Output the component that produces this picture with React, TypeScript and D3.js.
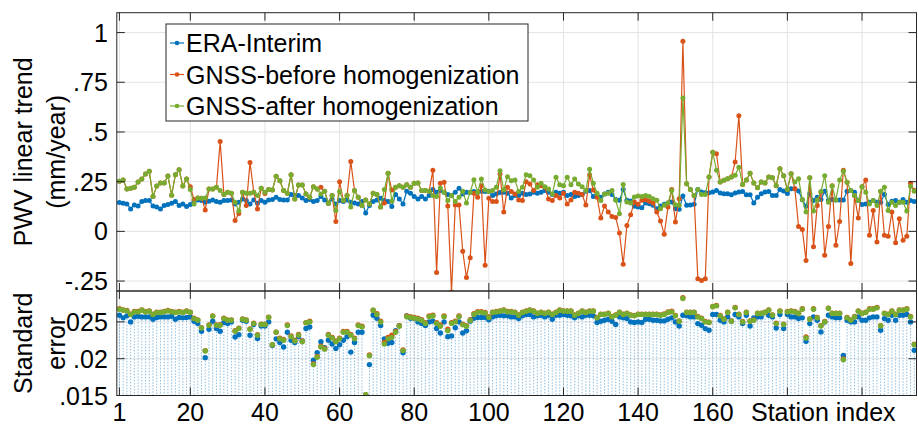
import React from 'react';
import * as d3 from 'd3';

// ---------- DATA ----------
const eraTrend = [
  0.145,0.142,0.138,0.113,0.133,0.127,0.15,0.155,0.155,0.127,
  0.122,0.112,0.13,0.135,0.142,0.15,0.13,0.138,0.125,0.135,
  0.15,0.158,0.155,0.147,0.152,0.158,0.15,0.147,0.155,0.155,
  0.158,0.138,0.147,0.163,0.155,0.138,0.158,0.142,0.155,0.147,
  0.158,0.16,0.172,0.16,0.158,0.158,0.185,0.18,0.18,0.168,
  0.155,0.16,0.15,0.155,0.175,0.158,0.142,0.163,0.138,0.155,
  0.15,0.158,0.147,0.143,0.138,0.15,0.093,0.13,0.15,0.158,
  0.167,0.155,0.15,0.125,0.185,0.163,0.138,0.202,0.192,0.175,
  0.163,0.175,0.163,0.18,0.21,0.197,0.205,0.197,0.185,0.18,
  0.197,0.217,0.188,0.197,0.197,0.2,0.197,0.202,0.2,0.202,
  0.18,0.188,0.195,0.197,0.192,0.168,0.18,0.18,0.192,0.185,
  0.188,0.197,0.192,0.197,0.205,0.197,0.185,0.197,0.192,0.197,
  0.18,0.185,0.175,0.18,0.185,0.202,0.205,0.175,0.18,0.172,
  0.188,0.197,0.185,0.16,0.156,0.21,0.156,0.153,0.126,0.122,
  0.119,0.143,0.139,0.131,0.114,0.127,0.136,0.143,0.148,0.114,
  0.111,0.178,0.131,0.132,0.136,0.21,0.198,0.194,0.194,0.198,
  0.206,0.193,0.189,0.189,0.184,0.193,0.198,0.201,0.184,0.184,
  0.143,0.172,0.189,0.198,0.201,0.181,0.181,0.211,0.203,0.191,
  0.215,0.215,0.203,0.159,0.126,0.189,0.155,0.172,0.16,0.202,
  0.155,0.16,0.158,0.158,0.158,0.202,0.205,0.197,0.155,0.135,
  0.138,0.147,0.155,0.147,0.147,0.185,0.135,0.152,0.155,0.147,
  0.16,0.147,0.155,0.15,
];

const gnssBeforeTrend = [
  0.252,0.258,0.213,0.217,0.222,0.248,0.263,0.288,0.302,0.175,
  0.228,0.243,0.243,0.278,0.182,0.285,0.31,0.228,0.263,0.225,
  0.16,0.168,0.167,0.108,0.213,0.213,0.222,0.452,0.185,0.197,
  0.192,0.055,0.09,0.197,0.13,0.347,0.197,0.113,0.217,0.19,
  0.21,0.208,0.277,0.255,0.205,0.192,0.285,0.163,0.233,0.233,
  0.188,0.172,0.225,0.213,0.222,0.202,0.142,0.18,0.05,0.25,
  0.155,0.18,0.352,0.205,0.172,0.13,0.158,0.138,0.192,0.185,
  0.122,0.143,0.292,0.208,0.222,0.23,0.222,0.235,0.222,0.242,
  0.243,0.205,0.205,0.202,0.307,-0.207,0.242,0.247,0.128,-0.305,
  0.133,0.133,-0.1,-0.232,-0.133,0.192,0.172,0.23,-0.17,0.167,
  0.15,0.15,0.288,0.097,0.222,0.2,0.188,0.158,0.155,0.25,
  0.238,0.205,0.235,0.23,0.222,0.163,0.155,0.18,0.168,0.192,
  0.138,0.158,0.197,0.192,0.185,0.133,0.283,0.208,0.172,0.067,
  0.128,0.097,0.075,0.07,-0.008,-0.166,0.03,0.084,0.148,0.136,
  0.156,0.159,0.151,0.143,0.097,0.052,-0.015,0.122,0.21,0.047,
  0.164,0.956,0.24,0.21,0.181,-0.238,-0.247,-0.238,0.273,0.398,
  0.39,0.248,0.257,0.265,0.273,0.349,0.582,0.236,0.258,0.292,
  0.243,0.22,0.248,0.243,0.273,0.27,0.23,0.315,0.28,0.21,
  0.29,0.215,0.025,0.01,-0.146,0.27,-0.078,0.13,0.197,-0.12,
  0.025,0.23,-0.07,0.05,0.308,0.247,-0.162,0.18,0.067,0.225,
  0.258,-0.02,0.105,-0.053,0.202,-0.02,-0.025,0.097,-0.057,0.063,
  -0.045,-0.025,0.242,0.205,
];

const gnssAfterTrend = [
  0.252,0.258,0.213,0.217,0.222,0.248,0.263,0.288,0.302,0.175,
  0.228,0.243,0.243,0.278,0.182,0.285,0.31,0.228,0.263,0.21,
  0.138,0.168,0.167,0.168,0.213,0.213,0.222,0.205,0.185,0.197,
  0.192,0.147,0.102,0.197,0.192,0.192,0.197,0.18,0.217,0.197,
  0.21,0.208,0.277,0.255,0.205,0.192,0.285,0.163,0.233,0.233,
  0.188,0.172,0.225,0.213,0.188,0.202,0.142,0.18,0.105,0.2,
  0.155,0.18,0.122,0.205,0.172,0.13,0.158,0.138,0.192,0.185,
  0.122,0.21,0.292,0.152,0.222,0.23,0.222,0.235,0.222,0.242,
  0.243,0.205,0.205,0.202,0.18,0.175,0.218,0.197,0.155,0.18,
  0.15,0.172,0.202,0.143,0.197,0.26,0.197,0.263,0.208,0.2,
  0.205,0.222,0.305,0.208,0.275,0.255,0.258,0.2,0.222,0.285,
  0.28,0.258,0.222,0.242,0.225,0.213,0.188,0.272,0.235,0.23,
  0.272,0.235,0.263,0.238,0.225,0.205,0.313,0.242,0.192,0.155,
  0.188,0.192,0.205,0.156,0.089,0.236,0.148,0.143,0.173,0.178,
  0.176,0.181,0.176,0.164,0.156,0.114,0.131,0.143,0.206,0.134,
  0.131,0.671,0.24,0.21,0.181,0.21,0.185,0.185,0.273,0.398,
  0.307,0.248,0.257,0.265,0.273,0.282,0.323,0.236,0.258,0.292,
  0.243,0.22,0.248,0.243,0.273,0.27,0.23,0.315,0.28,0.21,
  0.29,0.248,0.265,0.16,0.097,0.27,0.102,0.158,0.2,0.28,
  0.147,0.228,0.158,0.258,0.302,0.247,0.205,0.18,0.155,0.225,
  0.197,0.138,0.155,0.13,0.202,0.222,0.105,0.147,0.13,0.147,
  0.147,0.102,0.227,0.202,
];

const eraSE = [
  .0259,.02555,.02582,.025,.02568,.02577,.02568,.02568,.02568,.02536,
  .02559,.02568,.02568,.02568,.02577,.02536,.02559,.02555,.02559,.02568,
  .02509,.02477,.02373,.02014,.024,.02509,.02409,.02373,.02491,.02477,
  .025,.02295,.02327,.02523,.02509,.02318,.02464,.02273,.02445,.02445,
  .025,.0218,.0227,.0222,.0216,.0236,.0225,.0222,.023,.0224,
  .0241,.0243,.0198,.0208,.0223,.0215,.0225,.022,.0214,.0219,
  .0225,.023,.0209,.0222,.0236,.0236,.0150,.0192,.0259,.0255,
  .0245,.0227,.0221,.0222,.0238,.0245,.0208,.0258,.0255,.0255,
  .025,.0248,.0245,.025,.0251,.0241,.0235,.025,.023,.0231,
  .0242,.025,.0235,.0238,.0251,.0255,.0256,.0256,.0256,.0253,
  .02568,.02582,.02591,.02582,.02582,.02568,.02568,.02545,.02582,.026,
  .026,.02568,.02582,.02591,.02568,.02591,.02536,.02591,.02591,.026,
  .02591,.02582,.02555,.02582,.02568,.02591,.02591,.02582,.02491,.02509,
  .02523,.02536,.02509,.02464,.02568,.02555,.02545,.025,.02491,.025,
  .02491,.02536,.02536,.02523,.02523,.02514,.02514,.02536,.02555,.025,
  .02445,.02591,.02582,.02568,.02568,.02477,.02455,.02409,.02386,.026,
  .026,.02523,.025,.02568,.02509,.026,.02568,.02477,.02591,.02445,
  .02555,.02568,.02568,.02627,.02591,.02568,.02418,.026,.02409,.026,
  .02568,.02568,.02545,.02555,.02236,.02477,.02568,.02523,.02364,.025,
  .02591,.02568,.02555,.02555,.02045,.02523,.025,.025,.02568,.02523,
  .02523,.02555,.02568,.02568,.02386,.02545,.02523,.02591,.02523,.02591,
  .02591,.026,.025,.02114,
];

const gnssBeforeSE = [
  .02678,.02664,.02655,.02605,.02641,.02641,.02664,.02641,.0265,.02605,
  .02632,.02632,.02641,.02655,.02641,.02632,.02641,.02632,.0265,.02632,
  .0255,.02528,.02423,.0211,.0246,.02582,.0246,.02462,.0255,.02528,
  .02528,.0238,.02414,.02541,.02528,.02405,.02482,.02325,.0247,.0247,
  .02565,.0219,.0236,.0228,.0226,.0246,.0231,.0225,.0233,.0224,
  .0249,.0251,.0193,.0203,.0217,.0214,.0233,.0229,.0224,.0228,
  .0237,.0237,.0233,.0228,.0246,.0244,.0151,.0205,.0266,.0261,
  .0251,.0222,.0229,.0232,.0237,.0245,.0212,.0258,.0257,.0256,
  .0255,.0253,.0249,.0258,.0259,.0249,.0246,.0258,.0240,.0249,
  .0251,.0258,.0247,.0245,.0253,.0261,.0264,.0264,.0263,.0257,
  .02632,.02641,.0265,.02664,.02641,.02641,.02632,.02596,.02632,.0265,
  .02664,.0265,.02619,.02632,.02619,.02632,.02605,.02632,.02664,.0265,
  .0265,.0265,.02596,.02619,.0265,.02632,.0265,.0265,.0256,.02605,
  .02605,.02619,.02573,.02596,.02632,.02605,.02619,.02596,.02587,.02605,
  .02605,.02605,.02605,.02605,.02605,.02595,.02608,.02635,.02645,.02587,
  .02514,.0283,.02632,.02632,.02632,.02573,.0255,.02505,.02496,.0271,
  .02723,.02587,.02541,.02632,.02514,.02696,.02605,.02505,.02632,.02514,
  .02528,.02619,.02619,.02632,.02664,.02596,.02482,.0265,.02469,.02641,
  .0265,.02641,.02619,.02678,.02295,.02541,.02678,.0256,.0245,.02505,
  .02687,.02619,.02619,.02619,.01995,.0256,.02528,.02573,.0265,.02619,
  .02632,.02678,.02678,.02696,.0245,.02619,.02605,.0265,.02605,.02664,
  .02664,.02678,.02573,.02196,
];

const gnssAfterSE = [
  .02673,.02659,.0265,.026,.02636,.02636,.02659,.02636,.02645,.026,
  .02627,.02627,.02636,.0265,.02636,.02627,.02636,.02627,.02645,.02627,
  .02545,.02523,.02418,.02105,.02455,.02577,.02455,.02455,.02545,.02523,
  .02523,.02373,.02409,.02536,.02523,.024,.02477,.02318,.02464,.02464,
  .0256,.0219,.0236,.0227,.0225,.0245,.023,.0224,.0232,.0223,
  .0249,.025,.0192,.0202,.0216,.0213,.0232,.0228,.0223,.0227,
  .0236,.0236,.0232,.0227,.0245,.0243,.0151,.0204,.0266,.026,
  .025,.022,.0227,.0229,.0236,.0244,.0211,.0257,.0256,.0255,
  .0254,.0252,.0248,.0257,.0258,.0248,.0244,.0257,.0238,.0248,
  .025,.0257,.0246,.0244,.0252,.026,.0263,.0263,.0262,.0256,
  .02627,.02636,.02645,.02659,.02636,.02636,.02627,.02591,.02627,.02645,
  .02659,.02645,.02614,.02627,.02614,.02627,.026,.02627,.02659,.02645,
  .02645,.02645,.02591,.02614,.02645,.02627,.02645,.02645,.02555,.026,
  .026,.02614,.02568,.02591,.02627,.026,.02614,.02591,.02582,.026,
  .026,.026,.026,.026,.026,.0259,.026,.02627,.02636,.02582,
  .02509,.02818,.02627,.02627,.02627,.02568,.02545,.025,.02491,.02705,
  .02718,.02582,.02536,.02627,.02509,.02691,.026,.025,.02627,.02509,
  .02523,.02614,.02614,.02627,.02659,.02591,.02477,.02645,.02464,.02636,
  .02645,.02636,.02614,.02673,.02282,.02536,.02673,.02555,.02445,.025,
  .02682,.02614,.02614,.02614,.01986,.02555,.02523,.02568,.02645,.02614,
  .02627,.02673,.02673,.02691,.02445,.02614,.026,.02645,.026,.02659,
  .02659,.02673,.02568,.02191,
];

const seriesNames = ['ERA-Interim', 'GNSS-before homogenization', 'GNSS-after homogenization'];
const seriesColors = ['#0072BD', '#D95319', '#77AC30'];

const xTicks = [1, 20, 40, 60, 80, 100, 120, 140, 160, 180, 200];
const xTickLabels = ['1', '20', '40', '60', '80', '100', '120', '140', '160', '', ''];
const trendTicks = [-0.25, 0, 0.25, 0.5, 0.75, 1];
const trendTickLabels = ['-.25', '0', '.25', '.5', '.75', '1'];
const seTicks = [0.015, 0.02, 0.025];
const seTickLabels = ['.015', '.02', '.025'];

// ---------- LAYOUT ----------
const W = 918, H = 430;
const L = 116.8, R = 916.5;
const T1 = 12.7, B1 = 291, B2 = 395.5;
const FONT = "'Liberation Sans', Arial, Helvetica, sans-serif";
const FS = 25;
const AX = '#262626';
const GRID = '#e3e3e3';
const TICK = 8;

export default function App() {
  const x = d3.scaleLinear().domain([0.3, 214.6]).range([L, R]);
  const yT = d3.scaleLinear().domain([-0.3, 1.1]).range([B1, T1]);
  const yS = d3.scaleLinear().domain([0.015, 0.0292]).range([B2, B1]);

  const trendSeries = [eraTrend, gnssBeforeTrend, gnssAfterTrend];
  const seSeries = [eraSE, gnssBeforeSE, gnssAfterSE];

  const lineT = (arr: number[]) =>
    d3.line<number>().x((_, i) => x(i + 1)).y((d) => yT(d))(arr) || '';

  return (
    <div style={{ position: 'absolute', left: 0, top: 0 }}>
      <svg width={W} height={H} style={{ display: 'block', background: '#fff' }} fontFamily={FONT}>
        <defs>
          <clipPath id="clipT"><rect x={L} y={T1} width={R - L} height={B1 - T1} /></clipPath>
          <clipPath id="clipS"><rect x={L} y={B1} width={R - L} height={B2 - B1} /></clipPath>
        </defs>
        <rect x={0} y={0} width={W} height={H} fill="#fff" />

        {/* grids */}
        {xTicks.map((t) => (
          <g key={'gx' + t}>
            <line x1={x(t)} x2={x(t)} y1={T1} y2={B1} stroke={GRID} />
            <line x1={x(t)} x2={x(t)} y1={B1} y2={B2} stroke={GRID} />
          </g>
        ))}
        {trendTicks.map((t) => (
          <line key={'gy' + t} x1={L} x2={R} y1={yT(t)} y2={yT(t)} stroke={GRID} />
        ))}
        {seTicks.map((t) => (
          <line key={'gs' + t} x1={L} x2={R} y1={yS(t)} y2={yS(t)} stroke={GRID} />
        ))}

        {/* top panel series */}
        <g clipPath="url(#clipT)">
          {trendSeries.map((arr, si) => (
            <g key={'ts' + si}>
              <path d={lineT(arr)} fill="none" stroke={seriesColors[si]} strokeWidth={1.2} />
              {arr.map((v, i) => (
                <circle key={i} cx={x(i + 1)} cy={yT(v)} r={2.5} fill={seriesColors[si]} />
              ))}
            </g>
          ))}
        </g>

        {/* bottom panel: stems and dots */}
        <g clipPath="url(#clipS)">
          {eraSE.map((v, i) => (
            <line key={'st' + i} x1={x(i + 1)} x2={x(i + 1)} y1={yS(v)} y2={B2}
              stroke="#0072BD" strokeOpacity={0.45} strokeWidth={1} strokeDasharray="1.5,1.5" />
          ))}
          {seSeries.map((arr, si) => (
            <g key={'ss' + si}>
              {arr.map((v, i) => (
                <circle key={i} cx={x(i + 1)} cy={yS(v)} r={2.7} fill={seriesColors[si]} />
              ))}
            </g>
          ))}
        </g>

        {/* axes boxes */}
        <rect x={L} y={T1} width={R - L} height={B1 - T1} fill="none" stroke={AX} strokeWidth={1} />
        <rect x={L} y={B1} width={R - L} height={B2 - B1} fill="none" stroke={AX} strokeWidth={1} />

        {/* ticks */}
        {xTicks.map((t) => (
          <g key={'tx' + t} stroke={AX}>
            <line x1={x(t)} x2={x(t)} y1={T1} y2={T1 + TICK} />
            <line x1={x(t)} x2={x(t)} y1={B1} y2={B1 - TICK} />
            <line x1={x(t)} x2={x(t)} y1={B1} y2={B1 + TICK} />
            <line x1={x(t)} x2={x(t)} y1={B2} y2={B2 - TICK} />
          </g>
        ))}
        {trendTicks.map((t) => (
          <g key={'ty' + t} stroke={AX}>
            <line x1={L} x2={L + TICK} y1={yT(t)} y2={yT(t)} />
            <line x1={R} x2={R - TICK} y1={yT(t)} y2={yT(t)} />
          </g>
        ))}
        {seTicks.map((t) => (
          <g key={'tsy' + t} stroke={AX}>
            <line x1={L} x2={L + TICK} y1={yS(t)} y2={yS(t)} />
            <line x1={R} x2={R - TICK} y1={yS(t)} y2={yS(t)} />
          </g>
        ))}

        {/* tick labels */}
        {trendTicks.map((t, i) => (
          <text key={'lt' + t} x={L - 9} y={yT(t)} dy="0.36em" textAnchor="end" fontSize={FS} fill="#000">
            {trendTickLabels[i]}
          </text>
        ))}
        {seTicks.map((t, i) => (
          <text key={'ls' + t} x={L - 9} y={yS(t)} dy="0.36em" textAnchor="end" fontSize={FS} fill="#000">
            {seTickLabels[i]}
          </text>
        ))}
        {xTicks.map((t, i) => (
          <text key={'lx' + t} x={x(t)} y={421} textAnchor="middle" fontSize={FS} fill="#000">
            {xTickLabels[i]}
          </text>
        ))}
        <text x={751} y={421} fontSize={FS} fill="#000">Station index</text>

        {/* y labels */}
        <text transform={`translate(23,${(T1 + B1) / 2}) rotate(-90)`} textAnchor="middle" dominantBaseline="central" fontSize={FS} fill="#000">PWV linear trend</text>
        <text transform={`translate(56,${(T1 + B1) / 2}) rotate(-90)`} textAnchor="middle" dominantBaseline="central" fontSize={FS} fill="#000">(mm/year)</text>
        <text transform={`translate(23,${(B1 + B2) / 2}) rotate(-90)`} textAnchor="middle" dominantBaseline="central" fontSize={FS} fill="#000">Standard</text>
        <text transform={`translate(56,${(B1 + B2) / 2}) rotate(-90)`} textAnchor="middle" dominantBaseline="central" fontSize={FS} fill="#000">error</text>

        {/* legend */}
        <rect x={166} y={24} width={362} height={97} fill="#fff" stroke={AX} strokeWidth={1} />
        {seriesNames.map((n, i) => {
          const cy = 43 + i * 31.5;
          return (
            <g key={'lg' + i}>
              <line x1={170} x2={184} y1={cy} y2={cy} stroke={seriesColors[i]} strokeWidth={1.2} />
              <circle cx={177} cy={cy} r={2.3} fill={seriesColors[i]} />
              <text x={186} y={cy} dy="0.36em" fontSize={FS} fill="#000">{n}</text>
            </g>
          );
        })}
      </svg>
    </div>
  );
}
